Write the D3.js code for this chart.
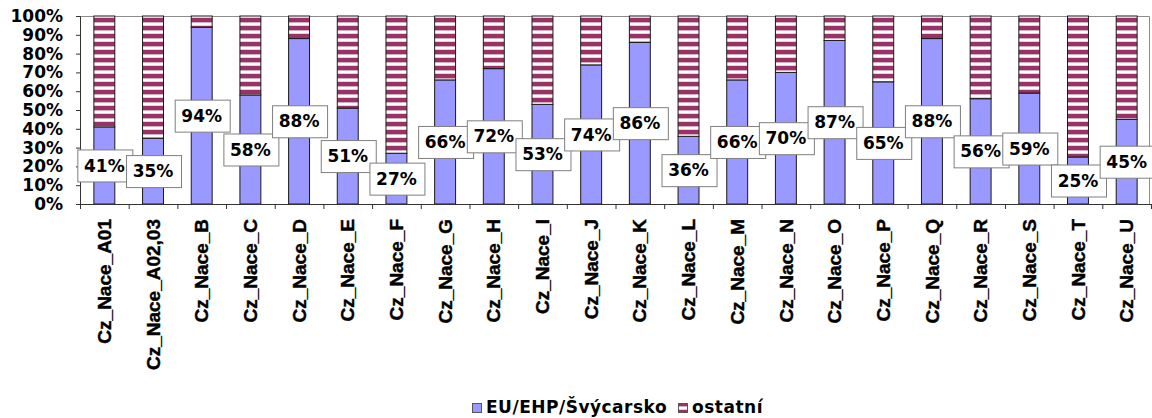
<!DOCTYPE html>
<html>
<head>
<meta charset="utf-8">
<script src="https://cdn.jsdelivr.net/npm/d3@7"></script>
<style>
  body { margin: 0; background: #fff; }
  svg { display: block; }
  .xlabel { font-family: Arial, "Liberation Sans", sans-serif; font-weight: 700; font-size: 19px; }
  .bold17 { font-family: "DejaVu Sans", Verdana, sans-serif; font-weight: bold; font-size: 17px; }
</style>
</head>
<body>
<script>
// data
var categories = ["Cz_Nace_A01", "Cz_Nace_A02,03", "Cz_Nace_B", "Cz_Nace_C", "Cz_Nace_D",
    "Cz_Nace_E", "Cz_Nace_F", "Cz_Nace_G", "Cz_Nace_H", "Cz_Nace_I", "Cz_Nace_J",
    "Cz_Nace_K", "Cz_Nace_L", "Cz_Nace_M", "Cz_Nace_N", "Cz_Nace_O", "Cz_Nace_P",
    "Cz_Nace_Q", "Cz_Nace_R", "Cz_Nace_S", "Cz_Nace_T", "Cz_Nace_U"];
var euShare = [41, 35, 94, 58, 88, 51, 27, 66, 72, 53, 74, 86, 36, 66, 70, 87, 65, 88, 56, 59, 25, 45];
var seriesNames = ["EU/EHP/Švýcarsko", "ostatní"];
var yTicks = [0, 10, 20, 30, 40, 50, 60, 70, 80, 90, 100];

function main(){
    var canvasWidth = 1152;
    var canvasHeight = 418;
    var left = 80, right = 1151, top = 16, bottom = 204;

    var svg = d3.select("body").append("svg")
        .attr("width", canvasWidth)
        .attr("height", canvasHeight);

    // striped fill for "ostatní"
    var pat = svg.append("defs").append("pattern")
        .attr("id", "stripes")
        .attr("patternUnits", "userSpaceOnUse")
        .attr("x", 0).attr("y", top + 2)
        .attr("width", 8).attr("height", 8);
    pat.append("rect").attr("width", 8).attr("height", 8).attr("fill", "#ffffff");
    pat.append("rect").attr("y", 0).attr("width", 8).attr("height", 4).attr("fill", "#993366");
    pat.append("rect").attr("y", 4).attr("width", 8).attr("height", 1).attr("fill", "#d6aec2");
    pat.append("rect").attr("y", 7).attr("width", 8).attr("height", 1).attr("fill", "#e8cfdb");

    var xScale = d3.scaleBand().domain(categories).range([left, right])
        .paddingInner(0.57).paddingOuter(0.285);
    var yScale = d3.scaleLinear().domain([0, 100]).range([bottom, top]);
    var step = xScale.step();

    // plot area border (top and right)
    svg.append("path")
        .attr("d", "M" + left + "," + (top + 0.5) + "H" + (right - 1.5) + "V" + bottom)
        .attr("fill", "none").attr("stroke", "#8c8c8c").attr("stroke-width", 1);

    // bars: blue part
    svg.selectAll(".eu")
        .data(euShare)
        .enter().append("rect")
        .attr("class", "eu")
        .attr("x", function(d, i){ return xScale(categories[i]); })
        .attr("y", function(d){ return yScale(d); })
        .attr("width", xScale.bandwidth())
        .attr("height", function(d){ return yScale(0) - yScale(d); })
        .attr("fill", "#9999ff")
        .attr("stroke", "#1a1a1a").attr("stroke-width", 1);

    // bars: striped part
    svg.selectAll(".rest")
        .data(euShare)
        .enter().append("rect")
        .attr("class", "rest")
        .attr("x", function(d, i){ return xScale(categories[i]); })
        .attr("y", function(){ return yScale(100); })
        .attr("width", xScale.bandwidth())
        .attr("height", function(d){ return yScale(d) - yScale(100); })
        .attr("fill", "url(#stripes)")
        .attr("stroke", "#1a1a1a").attr("stroke-width", 1);

    // Y axis
    var yAxis = svg.append("g")
        .attr("transform", "translate(" + left + ",0)")
        .call(d3.axisLeft(yScale).tickValues(yTicks)
            .tickFormat(function(d){ return d + "%"; })
            .tickSize(4).tickPadding(13));
    yAxis.attr("font-family", null).attr("font-size", null);
    yAxis.select(".domain").attr("stroke", "#333");
    yAxis.selectAll(".tick line").attr("stroke", "#333");
    yAxis.selectAll("text").attr("class", "bold17").attr("fill", "#000");

    // X axis line and ticks between categories
    var xAxis = svg.append("g");
    xAxis.append("line")
        .attr("x1", left).attr("x2", right)
        .attr("y1", bottom + 0.5).attr("y2", bottom + 0.5)
        .attr("stroke", "#333");
    xAxis.selectAll(".xtick")
        .data(d3.range(categories.length + 1))
        .enter().append("line")
        .attr("x1", function(i){ return left + i * step + 0.5; })
        .attr("x2", function(i){ return left + i * step + 0.5; })
        .attr("y1", bottom).attr("y2", bottom + 5)
        .attr("stroke", "#333");

    // category labels
    xAxis.selectAll(".xlabel")
        .data(categories)
        .enter().append("text")
        .attr("class", "xlabel")
        .attr("transform", function(d){
            return "translate(" + (xScale(d) + xScale.bandwidth() / 2) + "," + (bottom + 15) + ") rotate(-90)";
        })
        .attr("dy", "0.35em")
        .attr("text-anchor", "end")
        .attr("fill", "#000")
        .attr("stroke", "#000").attr("stroke-width", 0.4)
        .text(function(d){ return d; });

    // data labels in boxes
    var lab = svg.selectAll(".dlabel")
        .data(euShare)
        .enter().append("g")
        .attr("class", "dlabel")
        .attr("transform", function(d, i){
            return "translate(" + (xScale(categories[i]) + xScale.bandwidth() / 2) + "," + yScale(d / 2) + ")";
        });
    var boxes = lab.append("rect")
        .attr("fill", "#fff").attr("stroke", "#7f7f7f").attr("stroke-width", 1);
    var texts = lab.append("text")
        .attr("class", "bold17")
        .attr("text-anchor", "middle")
        .attr("dy", "0.36em")
        .text(function(d){ return d + "%"; });
    texts.each(function(d, i){
        var w = this.getComputedTextLength() + 14;
        d3.select(boxes.nodes()[i])
            .attr("x", -Math.round(w / 2) + 0.5).attr("y", -15.5)
            .attr("width", Math.round(w)).attr("height", 32);
    });

    // legend
    var legend = svg.append("g");
    var fills = ["#9999ff", "url(#stripes)"];
    var legX = [472, 678];
    seriesNames.forEach(function(name, i){
        legend.append("rect")
            .attr("x", legX[i] + 0.5).attr("y", 403.5)
            .attr("width", 9).attr("height", 9)
            .attr("fill", fills[i]).attr("stroke", "#555");
        legend.append("text")
            .attr("class", "bold17")
            .attr("x", legX[i] + 14).attr("y", 413)
            .attr("letter-spacing", "0.5px")
            .text(name);
    });
}
main();
</script>
</body>
</html>
